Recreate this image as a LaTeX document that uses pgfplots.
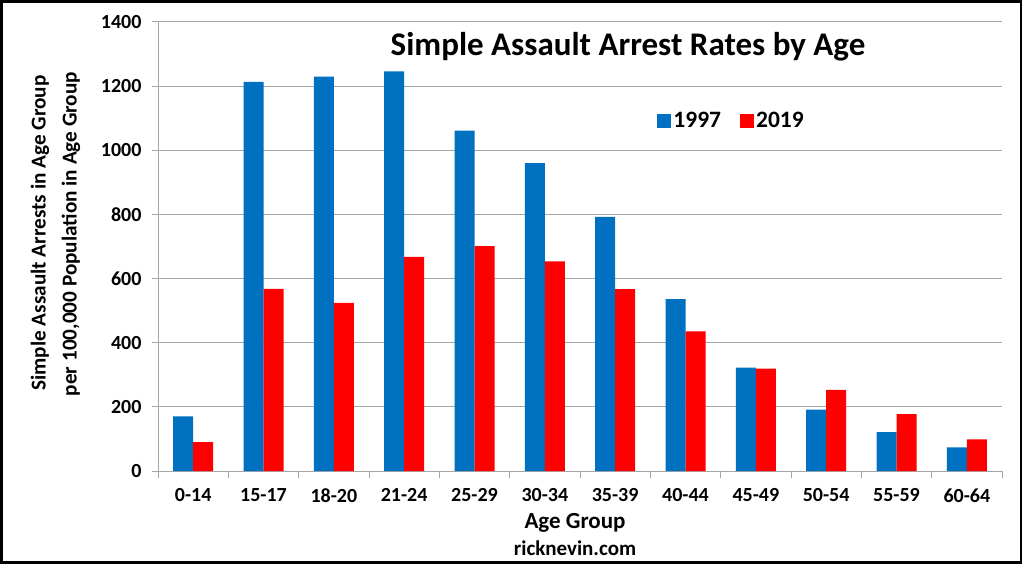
\documentclass[border=0pt]{standalone}
\usepackage{pgfplots}
\pgfplotsset{compat=1.18}
\usepackage{fontspec}
\setmainfont{Carlito}
\definecolor{myblue}{HTML}{0070C0}
\definecolor{myred}{HTML}{FF0000}
\definecolor{gridgray}{HTML}{A6A6A6}
\begin{document}
\begin{tikzpicture}[x=1pt,y=1pt]
\path (0,0) rectangle (1024,565);
\draw[line width=2.2pt] (1.5,2.5) rectangle (1021,563.5);
\begin{axis}[
  at={(158pt,94pt)}, anchor=south west, scale only axis,
  width=844pt, height=449pt,
  ybar=0pt, bar width=20pt,
  xmin=-0.5, xmax=11.5, ymin=0, ymax=1400,
  axis x line*=bottom, axis y line*=left,
  axis line style={gridgray, line width=1pt, -},
  xtick={0,...,11},
  xticklabels={0-14,15-17,18-20,21-24,25-29,30-34,35-39,40-44,45-49,50-54,55-59,60-64},
  minor xtick={-0.5,0.5,...,11.5},
  ytick={0,200,...,1400},
  yticklabels={0,200,400,600,800,1000,1200,1400},
  ymajorgrids, grid style={gridgray, line width=1pt},
  tick align=outside, tick pos=left,
  major tick length=6pt, minor tick length=7pt,
  every major tick/.style={gridgray, line width=1pt},
  every minor tick/.style={gridgray, line width=1pt},
  every major x tick/.style={draw=none},
  every tick label/.append style={font=\fontsize{20}{22}\selectfont\bfseries},
  yticklabel style={xshift=-7pt},
  xticklabel style={yshift=-8pt},
  legend style={at={(0.588,0.78)}, anchor=west, draw=none, fill=none,
    font=\fontsize{23.5}{25}\selectfont\bfseries,
    /tikz/every even column/.append style={column sep=17pt}},
  legend columns=2,
  legend image code/.code={\fill[#1] (0pt,-7pt) rectangle (14pt,7pt);},
]
\addplot[fill=myblue, draw=none] coordinates {(0,170) (1,1213) (2,1230) (3,1246) (4,1061) (5,960) (6,792) (7,536) (8,322) (9,191) (10,121) (11,74)};
\addplot[fill=myred, draw=none] coordinates {(0,90) (1,568) (2,524) (3,668) (4,701) (5,654) (6,567) (7,435) (8,319) (9,253) (10,177) (11,99)};
\legend{1997,2019}
\end{axis}
\node[font=\fontsize{33}{36}\selectfont\bfseries] at (628,518) {Simple Assault Arrest Rates by Age};
\node[rotate=90, font=\fontsize{21.2}{23}\selectfont\bfseries] at (40,332) {Simple Assault Arrests in Age Group};
\node[rotate=90, font=\fontsize{21.2}{23}\selectfont\bfseries] at (71,331) {per 100,000 Population in Age Group};
\node[font=\fontsize{23}{25}\selectfont\bfseries] at (575,42) {Age Group};
\node[font=\fontsize{21}{23}\selectfont\bfseries] at (575,17) {ricknevin.com};
\end{tikzpicture}
\end{document}
